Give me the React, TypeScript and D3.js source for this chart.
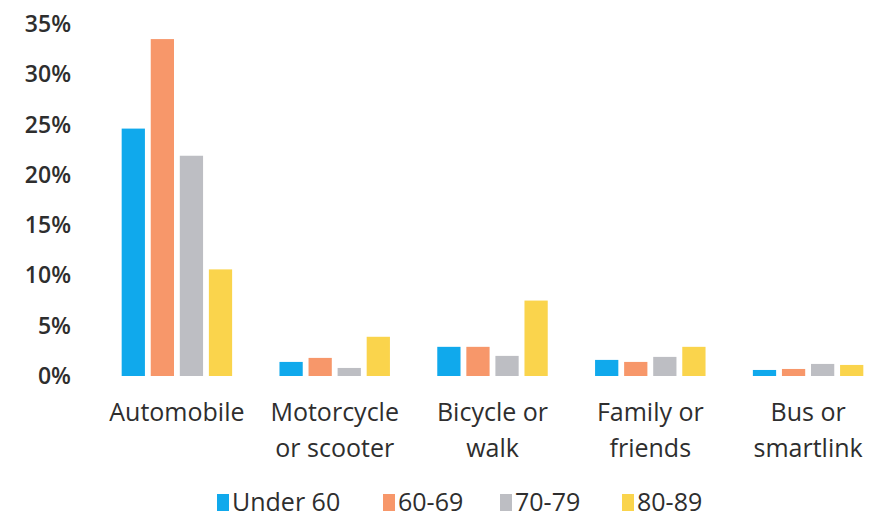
import React, { useEffect, useRef } from 'react';
import * as d3 from 'd3';

const categories = ['Automobile', 'Motorcycle or scooter', 'Bicycle or walk', 'Family or friends', 'Bus or smartlink'];
const categoryLines = [['Automobile'], ['Motorcycle', 'or scooter'], ['Bicycle or', 'walk'], ['Family or', 'friends'], ['Bus or', 'smartlink']];
const series = ['Under 60', '60-69', '70-79', '80-89'];
const under60 = [24.6, 1.4, 2.9, 1.6, 0.6];
const age6069 = [33.5, 1.8, 2.9, 1.4, 0.7];
const age7079 = [21.9, 0.8, 2.0, 1.9, 1.2];
const age8089 = [10.6, 3.9, 7.5, 2.9, 1.1];
const yTicks = [0, 5, 10, 15, 20, 25, 30, 35];
const colors = ['#10A9EC', '#F7976A', '#BDBEC3', '#FAD44C'];

const W = 890;
const H = 518;

const App: React.FC = () => {
  const svgRef = useRef<SVGSVGElement>(null);

  useEffect(() => {
    if (!svgRef.current) return;
    const svg = d3.select(svgRef.current);
    svg.selectAll('*').remove();

    const values = [under60, age6069, age7079, age8089];
    const font = '"Open Sans", sans-serif';

    const x0 = d3.scaleBand<string>().domain(categories).range([98, 887]).paddingInner(0.3).paddingOuter(0.15);
    const x1 = d3.scaleBand<string>().domain(series).range([0, x0.bandwidth()]).paddingInner(0.2);
    const y = d3.scaleLinear().domain([0, 35]).range([376, 24]);

    // y tick labels
    svg.append('g')
      .selectAll('text')
      .data(yTicks)
      .join('text')
      .attr('x', 71)
      .attr('y', d => y(d))
      .attr('dy', '0.35em')
      .attr('text-anchor', 'end')
      .attr('font-family', font)
      .attr('font-weight', 600)
      .attr('font-size', 23)
      .attr('fill', '#2e2e2e')
      .text(d => `${d}%`);

    // bars
    const groups = svg.append('g')
      .selectAll('g')
      .data(categories)
      .join('g')
      .attr('transform', d => `translate(${x0(d)},0)`);

    groups.selectAll('rect')
      .data((_, i) => series.map((s, k) => ({ s, k, v: values[k][i] })))
      .join('rect')
      .attr('x', d => x1(d.s)!)
      .attr('width', x1.bandwidth())
      .attr('y', d => y(d.v))
      .attr('height', d => y(0) - y(d.v))
      .attr('fill', d => colors[d.k]);

    // x labels
    const xl = svg.append('g')
      .selectAll('text')
      .data(categories)
      .join('text')
      .attr('x', d => x0(d)! + x0.bandwidth() / 2)
      .attr('y', 421)
      .attr('text-anchor', 'middle')
      .attr('font-family', font)
      .attr('font-weight', 500)
      .attr('font-size', 25)
      .attr('fill', '#2e2e2e');
    xl.selectAll('tspan')
      .data((_, i) => categoryLines[i])
      .join('tspan')
      .attr('x', function () { return (this.parentNode as SVGTextElement).getAttribute('x'); })
      .attr('dy', (_, j) => (j === 0 ? 0 : 36))
      .text(d => d);

    // legend
    const legendX = [217, 383, 500, 622];
    const lg = svg.append('g')
      .selectAll('g')
      .data(series)
      .join('g')
      .attr('transform', (_, i) => `translate(${legendX[i]},494)`);
    lg.append('rect').attr('width', 12).attr('height', 17).attr('fill', (_, i) => colors[i]);
    lg.append('text')
      .attr('x', 15)
      .attr('y', 8)
      .attr('dy', '0.35em')
      .attr('font-family', font)
      .attr('font-weight', 500)
      .attr('font-size', 25)
      .attr('fill', '#2e2e2e')
      .text(d => d);
  }, []);

  return <svg ref={svgRef} width={W} height={H} style={{ position: 'absolute', left: 0, top: 0, background: '#fff' }} />;
};

export default App;
